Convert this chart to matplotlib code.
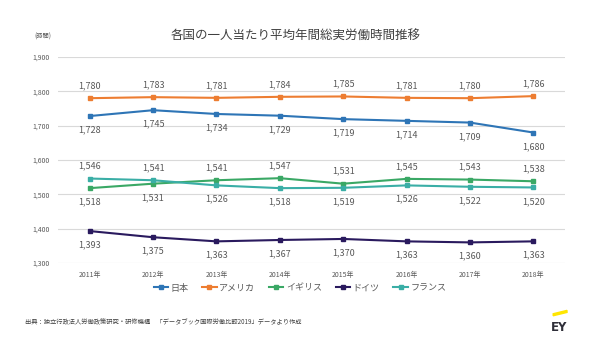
import matplotlib
matplotlib.use('Agg')
import matplotlib.pyplot as plt
from matplotlib.lines import Line2D

plt.rcParams['font.family'] = ['Noto Sans CJK JP', 'DejaVu Sans']

years = ['2011年', '2012年', '2013年', '2014年', '2015年', '2016年', '2017年', '2018年']
names = ['日本', 'アメリカ', 'イギリス', 'ドイツ', 'フランス']
japan = [1728, 1745, 1734, 1729, 1719, 1714, 1709, 1680]
usa = [1780, 1783, 1781, 1784, 1785, 1781, 1780, 1786]
uk = [1518, 1531, 1541, 1547, 1531, 1545, 1543, 1538]
germany = [1393, 1375, 1363, 1367, 1370, 1363, 1360, 1363]
france = [1546, 1541, 1526, 1518, 1519, 1526, 1522, 1520]

colors = ['#2e75b6', '#ed7d31', '#3aa865', '#2a1a5e', '#3aaea6']
# label above (1) or below (-1) the point
where = [
    [-1] * 8,
    [1] * 8,
    [-1, -1, 1, 1, 1, 1, 1, 1],
    [-1] * 8,
    [1, 1, -1, -1, -1, -1, -1, -1],
]

fig = plt.figure(figsize=(6, 3.37), dpi=100)
ax = fig.add_axes([0.0967, 0.2196, 0.845, 0.6113])

x = list(range(len(years)))
series = [japan, usa, uk, germany, france]
for vals, c, pos in zip(series, colors, where):
    ax.plot(x, vals, color=c, lw=1.5, marker='s', ms=3)
    for i, v in enumerate(vals):
        off = 9 if pos[i] > 0 else -10
        ax.annotate(f'{v:,}', (i, v), xytext=(0, off), textcoords='offset points',
                    ha='center', va='center', fontsize=6.5, color='#595959')

ax.set_xlim(-0.5, 7.5)
ax.set_ylim(1300, 1900)
ax.set_yticks(range(1300, 1901, 100))
ax.set_yticklabels([f'{v:,}' for v in range(1300, 1901, 100)])
ax.set_xticks(x)
ax.set_xticklabels(years)
ax.tick_params(axis='both', length=0, labelsize=5, labelcolor='#595959')
ax.tick_params(axis='y', pad=6)
ax.tick_params(axis='x', pad=6)
ax.grid(axis='y', color='#d9d9d9', lw=0.8)
ax.set_axisbelow(True)
for s in ax.spines.values():
    s.set_visible(False)

fig.text(0.493, 0.893, '各国の一人当たり平均年間総実労働時間推移', ha='center', va='center',
         fontsize=9, color='#404040')
fig.text(0.072, 0.89, '(時間)', ha='center', va='center', fontsize=4.5, color='#595959')

handles = [Line2D([0], [0], color=c, lw=1.5, marker='s', ms=3) for c in colors]
fig.legend(handles, names, loc='center', bbox_to_anchor=(0.5, 0.145), ncol=5,
           frameon=False, fontsize=6.5, handlelength=1.6, handletextpad=0.3,
           columnspacing=1.5, labelcolor='#595959')

fig.text(0.042, 0.045, '出典：独立行政法人労働政策研究・研修機構　「データブック国際労働比較2019」データより作成',
         ha='left', va='center', fontsize=4.5, color='#404040')

# EY logo
fig.patches.append(plt.Polygon([[0.922, 0.063], [0.945, 0.073], [0.945, 0.079], [0.922, 0.069]],
                               closed=True, color='#ffe600', transform=fig.transFigure, figure=fig))
fig.text(0.932, 0.028, 'EY', ha='center', va='center', fontsize=8.5, fontweight='bold',
         color='#2e2e38', family='DejaVu Sans')

fig.savefig('out.png', dpi=100)
